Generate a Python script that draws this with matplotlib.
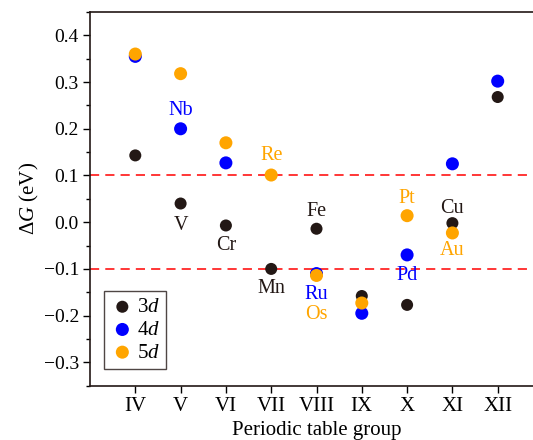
"""Free energy change by periodic table group, 3d / 4d / 5d metals."""

import matplotlib

matplotlib.use("Agg")

import matplotlib.pyplot as plt
from matplotlib.ticker import MultipleLocator

plt.rcParams["font.family"] = ["Liberation Serif", "DejaVu Serif"]
plt.rcParams["mathtext.fontset"] = "custom"
plt.rcParams["mathtext.rm"] = "Liberation Serif"
plt.rcParams["mathtext.it"] = "Liberation Serif:italic"

GROUPS = ["IV", "V", "VI", "VII", "VIII", "IX", "X", "XI", "XII"]

# None = no value in that group
DG_3D = [0.143, 0.040, -0.007, -0.100, -0.014, -0.158, -0.177, -0.002, 0.268]
DG_4D = [0.355, 0.200, 0.127, None, -0.110, -0.195, -0.070, 0.125, 0.302]
DG_5D = [0.360, 0.318, 0.170, 0.101, -0.114, -0.173, 0.014, -0.023, None]

SERIES_LABELS = ["3$d$", "4$d$", "5$d$"]

# (element, group, series, value offset for the label)
ELEMENT_LABELS = [
    ("Nb", "V", "4d", 0.04),
    ("V", "V", "3d", -0.047),
    ("Cr", "VI", "3d", -0.043),
    ("Re", "VII", "5d", 0.041),
    ("Mn", "VII", "3d", -0.042),
    ("Fe", "VIII", "3d", 0.037),
    ("Ru", "VIII", "4d", -0.045),
    ("Os", "VIII", "5d", -0.084),
    ("Pt", "X", "5d", 0.037),
    ("Pd", "X", "4d", -0.044),
    ("Cu", "XI", "3d", 0.031),
    ("Au", "XI", "5d", -0.038),
]

COLORS = {"3d": "#231815", "4d": "#0000ff", "5d": "#ffa500"}


def main() -> None:
    fig = plt.figure(figsize=(5.33, 4.40), dpi=100)
    ax = fig.add_axes([90 / 533, 1 - 385.7 / 440, 453 / 533, 373.7 / 440])

    series = {"3d": DG_3D, "4d": DG_4D, "5d": DG_5D}
    xs_all = range(1, len(GROUPS) + 1)
    sizes = {"3d": 75, "4d": 88, "5d": 88}
    for (key, values), label in zip(series.items(), SERIES_LABELS):
        pts = [(x, v) for x, v in zip(xs_all, values) if v is not None]
        ax.scatter(
            [p[0] for p in pts],
            [p[1] for p in pts],
            s=sizes[key],
            color=COLORS[key],
            edgecolors="none",
            label=label,
            zorder=3,
        )

    for y in (0.1, -0.1):
        ax.axhline(y, color="#ff0000", linestyle=(0, (6, 4)), linewidth=1.1, zorder=2)

    for name, group, key, offset in ELEMENT_LABELS:
        x = GROUPS.index(group) + 1
        value = series[key][x - 1]
        ax.text(
            x,
            value + offset,
            name,
            color=COLORS[key],
            fontsize=14.5,
            ha="center",
            va="center",
            zorder=4,
        )

    ax.set_xlim(0, 10)
    ax.set_ylim(-0.35, 0.45)
    ax.set_xticks(list(xs_all))
    ax.set_xticklabels(GROUPS)
    ax.yaxis.set_major_locator(MultipleLocator(0.1))
    ax.yaxis.set_minor_locator(MultipleLocator(0.05))
    ax.set_yticklabels([f"{t:.1f}".replace("-", "\u2212") for t in ax.get_yticks()])
    ax.tick_params(axis="both", which="major", direction="out", length=5, width=1.0,
                   labelsize=14, pad=3)
    ax.tick_params(axis="x", which="major", labelsize=15)
    ax.tick_params(axis="y", which="minor", direction="out", length=3, width=1.0)
    for spine in ax.spines.values():
        spine.set_linewidth(1.2)
        spine.set_color("#231815")

    ax.set_xlabel("Periodic table group", fontsize=15, labelpad=4)
    ax.set_ylabel(r"$\Delta G$ (eV)", fontsize=15, labelpad=2)

    legend = ax.legend(
        loc="lower left",
        bbox_to_anchor=(0.03, 0.045),
        fontsize=15,
        frameon=True,
        fancybox=False,
        edgecolor="#231815",
        handletextpad=0.1,
        borderpad=0.3,
        labelspacing=0.15,
        handlelength=1.2,
        borderaxespad=0,
    )
    legend.get_frame().set_linewidth(1.0)

    fig.savefig("out.png", dpi=100)
    plt.close(fig)


if __name__ == "__main__":
    main()
